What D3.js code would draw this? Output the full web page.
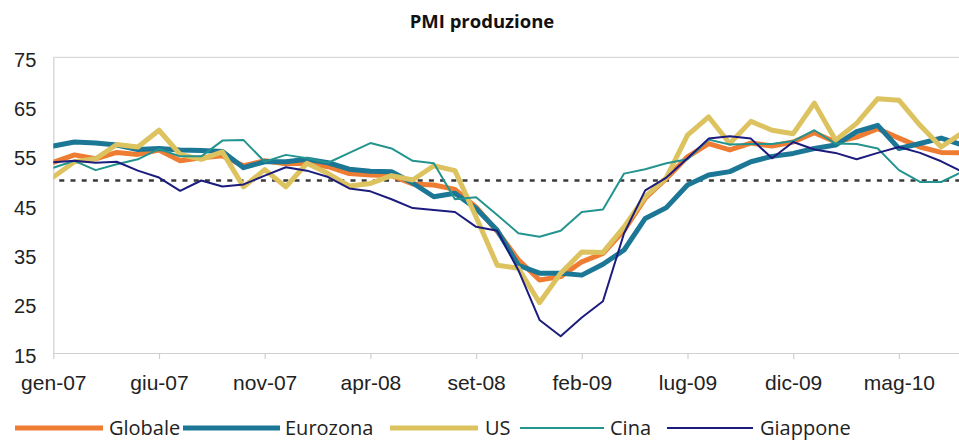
<!DOCTYPE html>
<html lang="it">
<head>
<meta charset="UTF-8">
<title>PMI produzione</title>
<script src="https://cdn.jsdelivr.net/npm/d3@7"></script>
<style>
    body { margin: 0; background: #fff; }
    svg { display: block; font-family: "Open Sans", "Noto Sans", sans-serif; }
</style>
</head>
<body>
<svg id="chart" width="959" height="441"></svg>

<script>
    /* global d3 */

    // mesi gen-07 .. ago-10
    var mesi = ["gen", "feb", "mar", "apr", "mag", "giu", "lug", "ago", "set", "ott", "nov", "dic"];
    var months = [];
    ["07", "08", "09", "10"].forEach(function (yy) {
        mesi.forEach(function (m) { months.push(m + "-" + yy); });
    });
    months = months.slice(0, 44);

    var yTicks = [15, 25, 35, 45, 55, 65, 75];

    var globale = [53.7, 55.2, 54.4, 55.7, 55.3, 56.2, 54.0, 54.6, 55.0, 53.0, 54.0, 53.4, 53.5, 52.8, 51.4,
        51.1, 51.0, 49.3, 49.1, 48.2, 44.6, 39.7, 33.9, 29.8, 30.5, 33.5, 35.2, 39.9, 46.4, 50.4, 54.8, 57.5,
        56.2, 57.6, 57.0, 57.8, 59.7, 57.8, 58.8, 60.5, 58.6, 56.8, 55.7, 55.6];
    var eurozona = [57.0, 57.8, 57.6, 57.2, 56.3, 56.5, 56.2, 56.1, 55.9, 52.6, 53.8, 53.8, 54.3, 53.6, 52.3,
        51.9, 51.8, 49.5, 46.7, 47.4, 44.3, 39.9, 32.8, 31.2, 31.2, 30.8, 33.0, 35.9, 42.3, 44.5, 49.1, 51.1,
        51.8, 53.8, 54.9, 55.5, 56.5, 57.2, 59.9, 61.2, 56.5, 57.5, 58.6, 57.2];
    var us = [50.7, 53.8, 54.4, 57.3, 56.8, 60.2, 55.3, 54.3, 55.8, 48.7, 52.2, 48.7, 53.5, 51.4, 48.9,
        49.4, 51.0, 50.1, 53.0, 52.0, 42.6, 32.8, 32.2, 25.2, 31.2, 35.5, 35.4, 40.6, 46.7, 50.6, 59.2, 62.9,
        57.5, 62.0, 60.2, 59.5, 65.7, 58.2, 61.6, 66.6, 66.3, 61.2, 56.8, 59.7];
    var cina = [52.6, 54.0, 52.1, 53.3, 54.3, 56.4, 54.9, 54.9, 58.1, 58.2, 53.8, 55.2, 54.5, 53.6, 55.6,
        57.6, 56.5, 54.0, 53.5, 46.2, 46.6, 43.0, 39.3, 38.6, 39.8, 43.6, 44.1, 51.4, 52.3, 53.5, 54.3, 58.3,
        57.3, 57.4, 57.4, 58.0, 60.2, 57.5, 57.4, 56.5, 52.1, 49.7, 49.7, 51.8];
    var giappone = [53.7, 54.0, 53.6, 53.8, 52.0, 50.6, 47.9, 50.0, 48.8, 49.2, 51.0, 52.7, 52.0, 50.7, 48.4,
        47.8, 46.2, 44.4, 44.0, 43.6, 40.6, 39.8, 31.8, 21.7, 18.4, 22.2, 25.5, 39.3, 48.0, 50.6, 54.5, 58.5,
        59.0, 58.5, 54.5, 57.8, 56.3, 55.6, 54.3, 55.6, 56.8, 55.6, 53.9, 51.8];

    var series = [
        {name: "Globale", values: globale, color: "#ee7d33", width: 5},
        {name: "Eurozona", values: eurozona, color: "#1b7795", width: 5},
        {name: "US", values: us, color: "#dcc35f", width: 5},
        {name: "Cina", values: cina, color: "#24948f", width: 2},
        {name: "Giappone", values: giappone, color: "#1c1c7e", width: 2}
    ];

    var svg = d3.select("#chart"),
        width = +svg.attr("width"),
        plotLeft = 53.3,
        plotTop = 57.3,
        plotBottom = 353,
        step = 21.14;

    var x = d3.scalePoint()
        .domain(months)
        .range([plotLeft, plotLeft + step * (months.length - 1)]);

    var y = d3.scaleLinear()
        .domain([15, 75])
        .range([plotBottom, plotTop]);

    svg.append("defs").append("clipPath")
        .attr("id", "plot")
        .append("rect")
        .attr("x", plotLeft)
        .attr("y", 0)
        .attr("width", width - plotLeft)
        .attr("height", 441);

    // titolo
    svg.append("text")
        .attr("x", 482)
        .attr("y", 28)
        .attr("text-anchor", "middle")
        .style("font-size", "18.5px")
        .style("font-weight", "bold")
        .style("fill", "#111")
        .text("PMI produzione");

    // bordo superiore
    svg.append("line")
        .attr("x1", plotLeft).attr("x2", width)
        .attr("y1", plotTop).attr("y2", plotTop)
        .style("stroke", "#d9d9d9")
        .style("stroke-width", 1.2);

    // asse y
    var yAxis = svg.append("g")
        .attr("transform", "translate(" + plotLeft + ",0)")
        .call(d3.axisLeft(y).tickValues(yTicks).tickSize(0).tickPadding(17));
    yAxis.select(".domain").style("stroke", "#d0d0d0").style("stroke-width", 1.2);
    yAxis.selectAll("text")
        .attr("dy", "0.45em")
        .style("font-size", "20px")
        .style("fill", "#222")
        .style("font-family", "inherit");

    // asse x
    var xAxis = svg.append("g")
        .attr("transform", "translate(0," + plotBottom + ")")
        .call(d3.axisBottom(x)
            .tickValues(months.filter(function (d, i) { return i % 5 === 0; }))
            .tickSize(6)
            .tickSizeOuter(0)
            .tickPadding(16));
    xAxis.select(".domain")
        .attr("d", "M" + plotLeft + ",0.5H" + width)
        .style("stroke", "#d0d0d0").style("stroke-width", 1.2);
    xAxis.selectAll(".tick line").style("stroke", "#d0d0d0").style("stroke-width", 1.2);
    xAxis.selectAll("text")
        .style("font-size", "21px")
        .style("fill", "#222")
        .style("font-family", "inherit");

    // linea 50
    svg.append("line")
        .attr("x1", plotLeft + 6).attr("x2", width)
        .attr("y1", y(50)).attr("y2", y(50))
        .style("stroke", "#3a3a3a")
        .style("stroke-width", 2.5)
        .style("stroke-dasharray", "5,6.2");

    var line = d3.line()
        .x(function (d, i) { return x(months[i]); })
        .y(function (d) { return y(d); });

    svg.append("g")
        .attr("clip-path", "url(#plot)")
        .selectAll("path")
        .data(series)
        .enter().append("path")
        .attr("d", function (s) { return line(s.values); })
        .style("fill", "none")
        .style("stroke", function (s) { return s.color; })
        .style("stroke-width", function (s) { return s.width; })
        .style("stroke-linejoin", "round")
        .style("stroke-linecap", "round");

    // legenda
    var legendPos = [
        {x1: 15, x2: 103, tx: 109},
        {x1: 183, x2: 280, tx: 285},
        {x1: 390, x2: 478, tx: 485},
        {x1: 520, x2: 604, tx: 610},
        {x1: 667, x2: 753, tx: 760}
    ];
    var legend = svg.append("g").selectAll("g")
        .data(series)
        .enter().append("g");
    legend.append("line")
        .attr("x1", function (s, i) { return legendPos[i].x1; })
        .attr("x2", function (s, i) { return legendPos[i].x2; })
        .attr("y1", 428).attr("y2", 428)
        .style("stroke", function (s) { return s.color; })
        .style("stroke-width", function (s) { return s.width; });
    legend.append("text")
        .attr("x", function (s, i) { return legendPos[i].tx; })
        .attr("y", 435)
        .style("font-size", "20px")
        .style("fill", "#222")
        .text(function (s) { return s.name; });
</script>
</body>
</html>
